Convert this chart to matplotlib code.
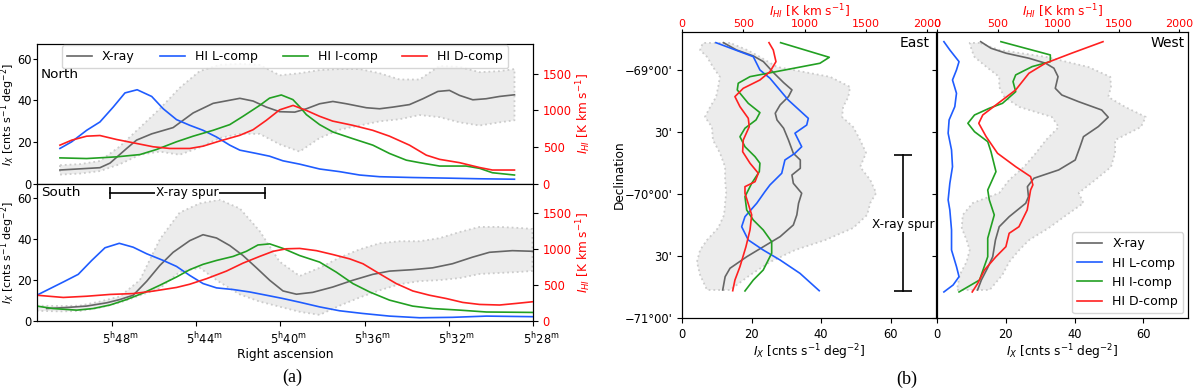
import matplotlib
matplotlib.use("Agg")
import matplotlib.pyplot as plt
import matplotlib.transforms as mtransforms

plt.rcParams['font.size'] = 8.7
plt.rcParams['xtick.labelsize'] = 8.3
plt.rcParams['ytick.labelsize'] = 8.3

# ---------------- (a) RA profiles, RA in minutes after 5h ----------------
# North strip
sh_n_ra = [50.48, 49.53, 48.58, 47.63, 46.68, 45.73, 44.79, 43.84, 42.89, 41.93, 40.99, 40.04,
           39.09, 38.14, 37.19, 36.24, 35.29, 34.34, 33.39, 32.44, 31.49, 30.54, 29.59, 28.88]
sh_n_lo = [4.5, 5.0, 6.2, 9.5, 14.0, 15.5, 14.0, 17.5, 22.0, 24.0, 24.0, 19.0,
           15.5, 22.0, 26.0, 28.0, 30.0, 31.0, 33.0, 32.0, 29.5, 28.0, 29.5, 30.5]
sh_n_hi = [9.0, 9.5, 11.0, 18.0, 27.0, 36.0, 46.0, 54.0, 57.0, 57.5, 57.0, 52.0,
           53.0, 54.5, 55.0, 55.0, 53.0, 50.0, 50.0, 56.5, 56.0, 53.5, 54.0, 55.0]

xray_n_ra = [50.48, 48.58, 48.10, 47.31, 46.84, 46.12, 45.10, 44.15, 43.20, 41.93, 41.30, 40.67,
             40.04, 39.32, 38.77, 38.14, 37.51, 36.87, 35.92, 35.29, 34.66, 33.87, 33.23, 32.52,
             31.97, 31.49, 30.86, 30.23, 29.59, 28.88]
xray_n = [6.7, 7.8, 10.0, 17.0, 21.0, 24.0, 27.0, 34.0, 38.6, 41.0, 39.7, 36.8,
          34.6, 34.4, 36.0, 38.4, 39.5, 38.4, 36.5, 36.0, 36.8, 38.0, 40.8, 44.3,
          44.8, 42.4, 40.3, 40.8, 41.9, 42.7]

hil_n_ra = [50.48, 49.92, 49.21, 48.58, 47.95, 47.39, 46.81, 46.12, 45.57, 44.94, 44.31, 43.68,
            43.04, 42.41, 41.93, 41.14, 40.52, 39.88, 39.09, 38.14, 37.19, 36.24, 35.29, 33.72,
            32.11, 30.54, 28.88]
hil_n = [483, 574, 730, 843, 1045, 1238, 1281, 1190, 1022, 875, 798, 730,
         639, 528, 460, 415, 378, 315, 270, 204, 168, 122, 99, 88, 80, 71, 65]

hii_n_ra = [50.48, 49.21, 47.79, 46.68, 45.89, 44.94, 44.15, 43.20, 42.41, 41.78, 40.99, 40.52,
            39.96, 39.41, 39.09, 38.77, 38.14, 37.51, 36.56, 35.61, 34.82, 34.02, 33.39, 32.44,
            31.18, 30.54, 29.93, 28.88]
hii_n = [355, 346, 369, 400, 469, 574, 650, 730, 807, 920, 1068, 1167,
         1210, 1147, 1051, 943, 807, 707, 616, 528, 415, 324, 290, 244,
         244, 213, 153, 122]

hid_n_ra = [50.48, 49.92, 49.21, 48.58, 47.79, 46.84, 46.05, 45.26, 44.31, 43.68, 42.88, 41.93,
            41.30, 40.67, 40.04, 39.40, 38.77, 38.14, 37.52, 36.57, 35.62, 34.82, 33.87, 33.07,
            32.44, 31.49, 30.54, 29.93, 28.88]
hid_n = [528, 596, 650, 659, 605, 551, 506, 483, 483, 514, 585, 662,
         738, 866, 1008, 1068, 1000, 920, 855, 798, 730, 650, 528, 392,
         335, 290, 224, 190, 190]

# South strip
sh_s_ra = [51.57, 50.48, 49.53, 48.58, 47.63, 46.68, 45.73, 44.79, 43.84, 42.89, 41.93, 40.99, 40.04,
           39.09, 38.14, 37.19, 36.24, 35.29, 34.34, 33.39, 32.44, 31.49, 30.54, 29.59, 28.65, 28.03]
sh_s_lo = [5.0, 4.7, 4.9, 6.5, 9.0, 12.5, 16.0, 24.0, 26.0, 19.0, 13.0, 9.5, 7.0,
           4.5, 3.0, 7.5, 11.5, 15.0, 18.0, 19.5, 20.0, 21.0, 23.0, 23.5, 24.0, 24.5]
sh_s_hi = [7.5, 7.3, 7.5, 9.5, 12.0, 20.0, 40.0, 53.0, 57.5, 59.3, 55.0, 44.0, 29.0,
           22.0, 26.0, 31.0, 35.0, 38.0, 39.0, 39.0, 40.5, 43.5, 46.0, 46.0, 45.5, 45.0]

xray_s_ra = [51.11, 50.16, 49.21, 48.26, 47.63, 47.00, 46.36, 45.73, 45.10, 44.31, 43.68, 43.04,
             42.41, 41.78, 41.14, 40.51, 39.88, 39.24, 38.47, 37.52, 36.57, 35.62, 34.82, 33.72,
             32.77, 31.83, 30.88, 30.07, 28.98, 28.03]
xray_s = [6.1, 6.6, 7.3, 8.9, 10.5, 12.6, 19.4, 27.2, 33.6, 39.3, 42.2, 40.6,
          36.9, 32.0, 26.0, 19.9, 14.7, 13.1, 14.0, 16.6, 19.9, 22.8, 24.4, 25.1,
          26.0, 28.0, 31.2, 33.6, 34.4, 34.1]

hil_s_ra = [51.58, 50.32, 49.61, 48.97, 48.34, 47.66, 47.00, 46.36, 45.57, 44.94, 44.31, 43.68,
            43.04, 42.25, 41.46, 40.67, 39.88, 39.09, 38.14, 37.19, 36.10, 34.82, 33.39, 31.83,
            30.21, 28.03]
hil_s = [358, 542, 648, 841, 1017, 1079, 1025, 934, 841, 758, 633, 520,
         460, 437, 403, 358, 312, 261, 196, 142, 105, 68, 45, 51, 68, 60]

hii_s_ra = [51.58, 50.80, 49.68, 48.90, 48.10, 47.31, 46.52, 45.73, 44.94, 44.31, 43.68, 43.04,
            42.25, 41.62, 41.07, 40.51, 39.88, 39.09, 38.14, 37.35, 36.56, 35.76, 34.82, 33.72,
            32.77, 31.49, 30.21, 28.03]
hii_s = [207, 173, 151, 173, 222, 298, 389, 497, 611, 713, 787, 841,
         897, 968, 1056, 1071, 1008, 909, 818, 679, 520, 403, 290, 207,
         173, 151, 125, 119]

hid_s_ra = [51.58, 50.32, 49.21, 48.10, 47.00, 46.05, 44.94, 44.31, 43.51, 42.57, 41.78, 40.99,
            40.35, 39.72, 39.09, 38.29, 37.51, 36.71, 36.08, 35.29, 34.50, 33.71, 32.92, 32.12,
            31.34, 30.54, 29.59, 28.80, 28.03]
hid_s = [358, 327, 344, 369, 381, 415, 466, 511, 588, 693, 804, 897,
         968, 1003, 1008, 977, 923, 863, 795, 656, 520, 417, 358, 312,
         258, 230, 222, 244, 267]

ra_ticks = [48, 44, 40, 36, 32, 28]
ra_labels = [r'$5^{\rm h}48^{\rm m}$', r'$5^{\rm h}44^{\rm m}$', r'$5^{\rm h}40^{\rm m}$',
             r'$5^{\rm h}36^{\rm m}$', r'$5^{\rm h}32^{\rm m}$', r'$5^{\rm h}28^{\rm m}$']
spur_ra = [48.10, 40.75]

# ---------------- (b) Dec profiles ----------------
sh_dec = [-68.782, -68.839, -68.895, -68.976, -69.056, -69.137, -69.218, -69.298, -69.379, -69.460,
          -69.565, -69.669, -69.782, -69.887, -69.992, -70.073, -70.169, -70.274, -70.371, -70.452,
          -70.548, -70.653, -70.774]
sh_e_lo = [6.0, 5.2, 7.2, 8.9, 10.9, 10.4, 9.8, 8.1, 6.6, 8.6, 8.9, 10.9, 12.4, 12.4, 12.7, 12.4,
           12.1, 10.4, 7.2, 5.2, 4.3, 5.2, 7.2]
sh_e_hi = [13.8, 18.7, 22.4, 27.3, 42.6, 48.3, 47.8, 46.3, 46.0, 49.2, 51.2, 52.9, 51.2, 54.1,
           55.8, 54.1, 53.2, 49.2, 41.2, 32.5, 25.3, 19.6, 13.8]
sh_w_lo = [9.5, 10.1, 10.9, 14.4, 18.1, 18.1, 19.6, 23.9, 33.4, 35.4, 31.7, 28.8, 25.3, 21.0,
           18.1, 10.4, 7.5, 7.2, 8.6, 9.5, 8.6, 6.6, 5.8]
sh_w_hi = [12.4, 18.1, 31.7, 44.0, 50.4, 50.6, 49.8, 54.7, 60.7, 59.3, 51.8, 51.8, 50.6, 46.0,
           41.2, 42.6, 37.7, 32.5, 26.8, 23.9, 21.0, 19.0, 15.3]

# East
xray_e_dec = [-68.780, -68.839, -68.887, -68.933, -69.022, -69.102, -69.161, -69.215, -69.282,
              -69.349, -69.403, -69.470, -69.565, -69.672, -69.726, -69.793, -69.847, -69.914,
              -69.994, -70.075, -70.169, -70.250, -70.344, -70.425, -70.506, -70.599, -70.667, -70.774]
xray_e = [11.9, 15.7, 20.5, 23.4, 26.3, 29.2, 31.6, 30.6, 28.2, 26.8, 27.3, 29.2, 30.6, 32.0,
          34.0, 34.0, 31.6, 32.0, 34.4, 33.5, 33.0, 32.0, 28.2, 23.4, 18.6, 13.8, 12.4, 11.7]

hil_e_dec = [-68.780, -68.893, -69.000, -69.067, -69.242, -69.390, -69.444, -69.510, -69.619,
             -69.672, -69.726, -69.833, -69.927, -69.981, -70.075, -70.183, -70.264, -70.371,
             -70.452, -70.532, -70.640, -70.780]
hil_e = [277, 582, 636, 718, 867, 1031, 1018, 922, 977, 922, 840, 814, 718, 677, 610, 514, 487,
         541, 663, 800, 963, 1120]

hii_e_dec = [-68.780, -68.898, -68.946, -69.054, -69.107, -69.161, -69.269, -69.344, -69.403,
             -69.470, -69.538, -69.619, -69.699, -69.752, -69.820, -69.914, -70.022, -70.129,
             -70.210, -70.290, -70.385, -70.478, -70.613, -70.694, -70.782]
hii_e = [805, 1202, 1126, 555, 459, 451, 541, 636, 604, 514, 473, 514, 596, 636, 631, 569, 514,
         528, 582, 663, 732, 732, 663, 582, 514]

hid_e_dec = [-68.780, -68.839, -68.933, -69.014, -69.081, -69.148, -69.215, -69.296, -69.390,
             -69.457, -69.565, -69.659, -69.752, -69.833, -69.901, -69.941, -69.994, -70.169,
             -70.290, -70.425, -70.586, -70.694, -70.780]
hid_e = [710, 745, 767, 718, 636, 500, 432, 473, 541, 549, 500, 495, 555, 623, 596, 514, 514,
         569, 555, 522, 473, 432, 414]

# West
xray_w_dec = [-68.772, -68.825, -68.865, -68.906, -68.946, -68.986, -69.054, -69.148, -69.202,
              -69.256, -69.323, -69.381, -69.457, -69.538, -69.619, -69.726, -69.806, -69.873,
              -69.941, -70.022, -70.075, -70.183, -70.264, -70.371, -70.506, -70.597, -70.694, -70.774]
xray_w = [12.7, 15.7, 20.1, 26.8, 31.6, 34.0, 35.2, 34.4, 36.3, 41.2, 47.9, 49.8, 46.9, 42.6,
          41.6, 40.2, 35.4, 28.2, 26.3, 26.6, 25.8, 21.0, 18.1, 17.0, 16.2, 14.7, 12.9, 11.8]

hil_w_dec = [-68.772, -68.839, -68.933, -69.000, -69.081, -69.188, -69.296, -69.403, -69.510,
             -69.645, -69.780, -69.914, -70.048, -70.129, -70.290, -70.452, -70.586, -70.667,
             -70.734, -70.790]
hil_w = [57, 106, 182, 161, 128, 161, 147, 100, 92, 120, 128, 106, 92, 106, 120, 120, 161, 182,
         133, 57]

hii_w_dec = [-68.772, -68.879, -68.933, -68.973, -69.040, -69.094, -69.175, -69.269, -69.309,
             -69.363, -69.430, -69.498, -69.578, -69.659, -69.820, -69.968, -70.048, -70.169,
             -70.357, -70.506, -70.694, -70.790]
hii_w = [528, 936, 936, 786, 650, 628, 650, 541, 432, 310, 255, 310, 419, 446, 487, 419, 432,
         473, 419, 419, 351, 182]

hid_w_dec = [-68.772, -68.865, -68.946, -69.027, -69.161, -69.282, -69.363, -69.430, -69.538,
             -69.672, -69.780, -69.860, -69.927, -69.968, -70.129, -70.264, -70.317, -70.425,
             -70.506, -70.613, -70.720, -70.790]
hid_w = [1371, 1112, 895, 759, 650, 487, 378, 345, 406, 500, 650, 773, 792, 773, 745, 677, 596,
         569, 487, 392, 337, 291]

dec_ticks = [-69.0, -69.5, -70.0, -70.5, -71.0]
dec_labels = ["\u221269\u00b000'", "30'", "\u221270\u00b000'", "30'", "\u221271\u00b000'"]
spur_dec = [-69.685, -70.78]

# ---------------- styling ----------------
c_x, c_l, c_i, c_d = '#666666', '#1f5cff', '#22a022', '#ff2020'
shade = dict(facecolor='#ececec', edgecolor='#cccccc', linestyle=':', linewidth=1.3)
lw = 1.2
ix_label = r'$I_X$ [cnts s$^{-1}$ deg$^{-2}$]'
hi_label = r'$I_{HI}$ [K km s$^{-1}$]'
IX_MAX = 67
HI_MAX = IX_MAX * 28.4

fig = plt.figure(figsize=(12, 3.92), dpi=100)


def ra_panel(rect, sh_ra, sh_lo, sh_hi, x_ra, x, l_ra, l, i_ra, i, d_ra, d):
    ax = fig.add_axes(rect)
    ax.fill_between(sh_ra, sh_lo, sh_hi, **shade)
    ax.plot(x_ra, x, color=c_x, lw=lw, label='X-ray')
    ax.set_xlim(51.57, 28)
    ax.set_ylim(0, IX_MAX)
    ax.set_yticks([0, 20, 40, 60])
    ax.tick_params(axis='y', length=3, pad=1)
    ax.set_ylabel(ix_label, fontsize=8.0)
    ax.yaxis.set_label_coords(-0.0411, 0.5)
    ax2 = ax.twinx()
    ax2.plot(l_ra, l, color=c_l, lw=lw, label='HI L-comp')
    ax2.plot(i_ra, i, color=c_i, lw=lw, label='HI I-comp')
    ax2.plot(d_ra, d, color=c_d, lw=lw, label='HI D-comp')
    ax2.set_ylim(0, HI_MAX)
    ax2.set_yticks([0, 500, 1000, 1500])
    ax2.tick_params(axis='y', labelcolor='red')
    ax2.set_ylabel(hi_label, color='red', labelpad=2)
    return ax, ax2


axn, axn2 = ra_panel([37 / 1200, 1 - 184 / 392, 496 / 1200, 140 / 392],
                     sh_n_ra, sh_n_lo, sh_n_hi, xray_n_ra, xray_n,
                     hil_n_ra, hil_n, hii_n_ra, hii_n, hid_n_ra, hid_n)
axs, axs2 = ra_panel([37 / 1200, 1 - 321 / 392, 496 / 1200, 137 / 392],
                     sh_s_ra, sh_s_lo, sh_s_hi, xray_s_ra, xray_s,
                     hil_s_ra, hil_s, hii_s_ra, hii_s, hid_s_ra, hid_s)
axn.tick_params(axis='x', bottom=False, labelbottom=False)
axs.set_xticks(ra_ticks)
axs.set_xticklabels(ra_labels)
axs.set_xlabel('Right ascension', labelpad=1)
shift = mtransforms.ScaledTranslation(8 / 100, 0, fig.dpi_scale_trans)
for t in axs.get_xticklabels():
    t.set_transform(t.get_transform() + shift)

axn.text(0.008, 0.78, 'North', transform=axn.transAxes, fontsize=9.7, va='center')
axs.text(0.008, 0.935, 'South', transform=axs.transAxes, fontsize=9.7, va='center')

h1, l1 = axn.get_legend_handles_labels()
h2, l2 = axn2.get_legend_handles_labels()
axn2.legend(h1 + h2, l1 + l2, loc='upper center', bbox_to_anchor=(0.5, 1.0), ncol=4,
            borderaxespad=0.1, fontsize=9)

# X-ray spur marker in RA
axs.plot(spur_ra, [62.6, 62.6], color='k', lw=1.2, marker='|', ms=9, mew=1.2)
axs.text(sum(spur_ra) / 2, 62.6, 'X-ray spur', ha='center', va='center',
         bbox=dict(facecolor='white', edgecolor='none', pad=0.5))


def dec_panel(rect, lo, hi, x_dec, x, l_dec, l, i_dec, i, d_dec, d):
    ax = fig.add_axes(rect)
    ax.fill_betweenx(sh_dec, lo, hi, **shade)
    ax.plot(x, x_dec, color=c_x, lw=lw, label='X-ray')
    ax.set_xlim(0, 73)
    ax.set_ylim(-71.0, -68.694)
    ax.set_xticks([0, 20, 40, 60])
    ax.set_yticks(dec_ticks)
    ax.set_xlabel(ix_label, labelpad=1)
    axt = ax.twiny()
    axt.plot(l, l_dec, color=c_l, lw=lw, label='HI L-comp')
    axt.plot(i, i_dec, color=c_i, lw=lw, label='HI I-comp')
    axt.plot(d, d_dec, color=c_d, lw=lw, label='HI D-comp')
    axt.set_xlim(0, 73 * 28.4)
    axt.set_xticks([0, 500, 1000, 1500, 2000])
    axt.tick_params(axis='x', labelcolor='red', labelsize=8.0, pad=0, length=2)
    axt.set_xlabel(hi_label, color='red')
    axt.xaxis.set_label_coords(0.5, 1.056)
    return ax, axt


axe, axet = dec_panel([682 / 1200, 1 - 318 / 392, 254 / 1200, 286 / 392],
                      sh_e_lo, sh_e_hi, xray_e_dec, xray_e,
                      hil_e_dec, hil_e, hii_e_dec, hii_e, hid_e_dec, hid_e)
axw, axwt = dec_panel([937 / 1200, 1 - 318 / 392, 251 / 1200, 286 / 392],
                      sh_w_lo, sh_w_hi, xray_w_dec, xray_w,
                      hil_w_dec, hil_w, hii_w_dec, hii_w, hid_w_dec, hid_w)
axe.set_yticklabels(dec_labels)
axe.set_ylabel('Declination')
axe.yaxis.set_label_coords(-0.222, 0.5)
axw.tick_params(axis='y', labelleft=False)

axe.text(0.975, 0.985, 'East', transform=axe.transAxes, ha='right', va='top', fontsize=10)
axw.text(0.985, 0.985, 'West', transform=axw.transAxes, ha='right', va='top', fontsize=10)

# X-ray spur marker in Dec
axe.plot([63.6, 63.6], spur_dec, color='k', lw=1.2, marker='_', ms=13, mew=1.2)
axe.text(63.6, -70.25, 'X-ray spur', ha='center', va='center',
         bbox=dict(facecolor='white', edgecolor='none', pad=0.5))

h1, l1 = axw.get_legend_handles_labels()
h2, l2 = axwt.get_legend_handles_labels()
axwt.legend(h1 + h2, l1 + l2, loc='lower right', fontsize=9, borderaxespad=0.4)

fig.text(292 / 1200, 1 - 377 / 392, '(a)', ha='center', va='center',
         family='Liberation Serif', fontsize=13)
fig.text(907 / 1200, 1 - 379 / 392, '(b)', ha='center', va='center',
         family='Liberation Serif', fontsize=13)

fig.savefig('out.png', dpi=100)
